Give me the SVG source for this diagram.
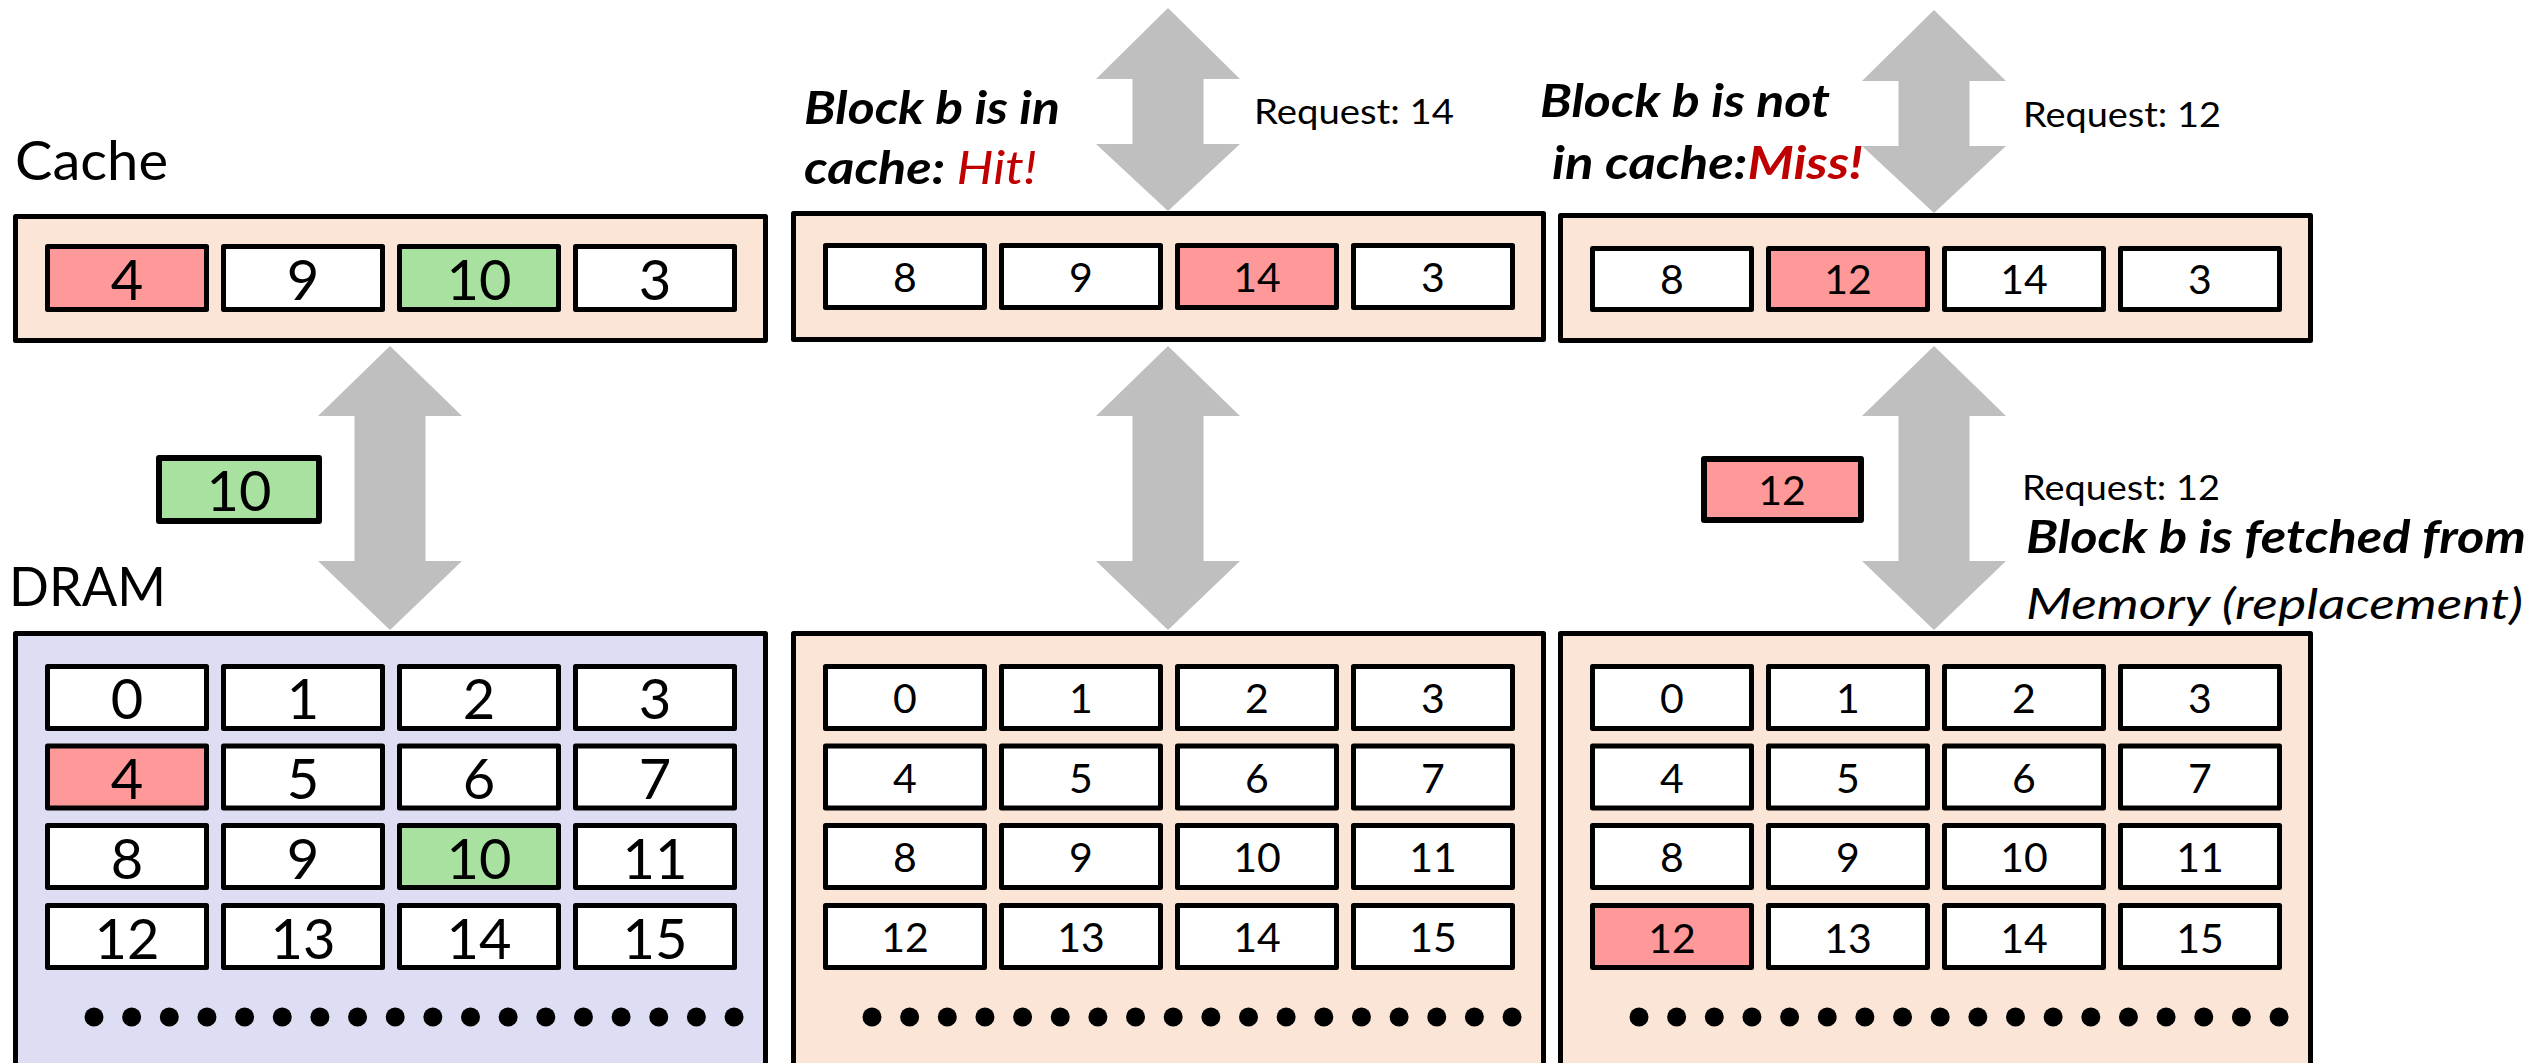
<svg xmlns="http://www.w3.org/2000/svg" xmlns:xlink="http://www.w3.org/1999/xlink" width="2529" height="1063" viewBox="0 0 2529 1063">
<style>
text{font-family:Lato,"Noto Sans","Liberation Sans",sans-serif;fill:#000}
.box{stroke:#000;stroke-width:5;stroke-linejoin:round}
.cache{fill:#FBE5D6}
.dram{fill:#DDDDF3}
.cell{fill:#fff;stroke:#000;stroke-width:5;stroke-linejoin:round}
.red{fill:#FF9999}
.green{fill:#A9E2A0}
.n1{font-size:56px;text-anchor:middle}
.n2{font-size:41px;text-anchor:middle}
.lbl{font-size:55px}
.bi{font-size:46px;font-weight:bold;font-style:italic}
.bi2{font-size:45px;font-weight:bold;font-style:italic}
.it{font-size:43px;font-style:italic}
.req{font-size:35px}
.hl{fill:#C00000}
.arrow{fill:#BFBFBF}
</style>
<defs>
<g id="dots">
<circle cx="81" cy="1017" r="9.5"/><circle cx="118.65" cy="1017" r="9.5"/><circle cx="156.3" cy="1017" r="9.5"/><circle cx="193.95" cy="1017" r="9.5"/><circle cx="231.6" cy="1017" r="9.5"/><circle cx="269.25" cy="1017" r="9.5"/><circle cx="306.9" cy="1017" r="9.5"/><circle cx="344.55" cy="1017" r="9.5"/><circle cx="382.2" cy="1017" r="9.5"/><circle cx="419.85" cy="1017" r="9.5"/><circle cx="457.5" cy="1017" r="9.5"/><circle cx="495.15" cy="1017" r="9.5"/><circle cx="532.8" cy="1017" r="9.5"/><circle cx="570.45" cy="1017" r="9.5"/><circle cx="608.1" cy="1017" r="9.5"/><circle cx="645.75" cy="1017" r="9.5"/><circle cx="683.4" cy="1017" r="9.5"/><circle cx="721.05" cy="1017" r="9.5"/>
</g>
</defs>
<rect width="2529" height="1063" fill="#fff"/>

<g id="connectors">
<polygon class="arrow" points="390,346 462,416 425.5,416 425.5,561 462,561 390,630 318,561 354.5,561 354.5,416 318,416"/>
<polygon class="arrow" points="1168,8 1240,79 1203.5,79 1203.5,144 1240,144 1168,211 1096,144 1132.5,144 1132.5,79 1096,79"/>
<polygon class="arrow" points="1168,346 1240,416 1203.5,416 1203.5,561 1240,561 1168,630 1096,561 1132.5,561 1132.5,416 1096,416"/>
<polygon class="arrow" points="1934,10 2006,81 1969.5,81 1969.5,146 2006,146 1934,213 1862,146 1898.5,146 1898.5,81 1862,81"/>
<polygon class="arrow" points="1934,346 2006,416 1969.5,416 1969.5,561 2006,561 1934,630 1862,561 1898.5,561 1898.5,416 1862,416"/>
</g>

<!-- Panel 1 -->
<g id="label-cache"><text class="lbl" x="15" y="180" textLength="153" lengthAdjust="spacingAndGlyphs">Cache</text></g>
<g id="label-dram"><text class="lbl" x="9" y="606" textLength="157" lengthAdjust="spacingAndGlyphs">DRAM</text></g>

<g id="cache1">
<rect class="box cache" x="15.5" y="216.5" width="750" height="124"/>
<rect class="cell red" x="47.5" y="246.5" width="159" height="63"/><text class="n1" x="127" y="300">4</text>
<rect class="cell" x="223.5" y="246.5" width="159" height="63"/><text class="n1" x="303" y="300">9</text>
<rect class="cell green" x="399.5" y="246.5" width="159" height="63"/><text class="n1" x="479" y="300">10</text>
<rect class="cell" x="575.5" y="246.5" width="159" height="63"/><text class="n1" x="655" y="300">3</text>
</g>

<g id="moving10">
<rect class="cell green" x="159" y="458" width="160" height="63" style="stroke-width:6"/><text class="n1" x="239" y="511">10</text>
</g>

<g id="dram1">
<rect class="box dram" x="15.5" y="633.5" width="750" height="500"/>
<rect class="cell" x="47.5" y="666.5" width="159" height="62"/><text class="n1" x="127" y="719">0</text>
<rect class="cell" x="223.5" y="666.5" width="159" height="62"/><text class="n1" x="303" y="719">1</text>
<rect class="cell" x="399.5" y="666.5" width="159" height="62"/><text class="n1" x="479" y="719">2</text>
<rect class="cell" x="575.5" y="666.5" width="159" height="62"/><text class="n1" x="655" y="719">3</text>
<rect class="cell red" x="47.5" y="746" width="159" height="62"/><text class="n1" x="127" y="799">4</text>
<rect class="cell" x="223.5" y="746" width="159" height="62"/><text class="n1" x="303" y="799">5</text>
<rect class="cell" x="399.5" y="746" width="159" height="62"/><text class="n1" x="479" y="799">6</text>
<rect class="cell" x="575.5" y="746" width="159" height="62"/><text class="n1" x="655" y="799">7</text>
<rect class="cell" x="47.5" y="825.5" width="159" height="62"/><text class="n1" x="127" y="879">8</text>
<rect class="cell" x="223.5" y="825.5" width="159" height="62"/><text class="n1" x="303" y="879">9</text>
<rect class="cell green" x="399.5" y="825.5" width="159" height="62"/><text class="n1" x="479" y="879">10</text>
<rect class="cell" x="575.5" y="825.5" width="159" height="62"/><text class="n1" x="655" y="879">11</text>
<rect class="cell" x="47.5" y="905.5" width="159" height="62"/><text class="n1" x="127" y="959">12</text>
<rect class="cell" x="223.5" y="905.5" width="159" height="62"/><text class="n1" x="303" y="959">13</text>
<rect class="cell" x="399.5" y="905.5" width="159" height="62"/><text class="n1" x="479" y="959">14</text>
<rect class="cell" x="575.5" y="905.5" width="159" height="62"/><text class="n1" x="655" y="959">15</text>
<use xlink:href="#dots" href="#dots" x="13"/>
</g>

<!-- Panel 2 -->
<g id="hit-text">
<text class="bi" x="804" y="124" textLength="256" lengthAdjust="spacingAndGlyphs">Block b is in</text>
<text class="bi" x="804" y="184" textLength="233" lengthAdjust="spacingAndGlyphs">cache: <tspan class="hl" style="font-weight:normal">Hit!</tspan></text>
<text class="req" x="1254" y="124" textLength="200" lengthAdjust="spacingAndGlyphs">Request: 14</text>
</g>

<g id="cache2">
<rect class="box cache" x="793.5" y="213.5" width="750" height="126"/>
<rect class="cell" x="825.5" y="245.5" width="159" height="62"/><text class="n2" x="905" y="292">8</text>
<rect class="cell" x="1001.5" y="245.5" width="159" height="62"/><text class="n2" x="1081" y="292">9</text>
<rect class="cell red" x="1177.5" y="245.5" width="159" height="62"/><text class="n2" x="1257" y="292">14</text>
<rect class="cell" x="1353.5" y="245.5" width="159" height="62"/><text class="n2" x="1433" y="292">3</text>
</g>

<g id="mem2">
<rect class="box cache" x="793.5" y="633.5" width="750" height="500"/>
<rect class="cell" x="825.5" y="666.5" width="159" height="62"/><text class="n2" x="905" y="713">0</text>
<rect class="cell" x="1001.5" y="666.5" width="159" height="62"/><text class="n2" x="1081" y="713">1</text>
<rect class="cell" x="1177.5" y="666.5" width="159" height="62"/><text class="n2" x="1257" y="713">2</text>
<rect class="cell" x="1353.5" y="666.5" width="159" height="62"/><text class="n2" x="1433" y="713">3</text>
<rect class="cell" x="825.5" y="746" width="159" height="62"/><text class="n2" x="905" y="793">4</text>
<rect class="cell" x="1001.5" y="746" width="159" height="62"/><text class="n2" x="1081" y="793">5</text>
<rect class="cell" x="1177.5" y="746" width="159" height="62"/><text class="n2" x="1257" y="793">6</text>
<rect class="cell" x="1353.5" y="746" width="159" height="62"/><text class="n2" x="1433" y="793">7</text>
<rect class="cell" x="825.5" y="825.5" width="159" height="62"/><text class="n2" x="905" y="872">8</text>
<rect class="cell" x="1001.5" y="825.5" width="159" height="62"/><text class="n2" x="1081" y="872">9</text>
<rect class="cell" x="1177.5" y="825.5" width="159" height="62"/><text class="n2" x="1257" y="872">10</text>
<rect class="cell" x="1353.5" y="825.5" width="159" height="62"/><text class="n2" x="1433" y="872">11</text>
<rect class="cell" x="825.5" y="905.5" width="159" height="62"/><text class="n2" x="905" y="952">12</text>
<rect class="cell" x="1001.5" y="905.5" width="159" height="62"/><text class="n2" x="1081" y="952">13</text>
<rect class="cell" x="1177.5" y="905.5" width="159" height="62"/><text class="n2" x="1257" y="952">14</text>
<rect class="cell" x="1353.5" y="905.5" width="159" height="62"/><text class="n2" x="1433" y="952">15</text>
<use xlink:href="#dots" href="#dots" x="791"/>
</g>

<!-- Panel 3 -->
<g id="miss-text">
<text class="bi" x="1540" y="117" textLength="290" lengthAdjust="spacingAndGlyphs">Block b is not</text>
<text class="bi" x="1552" y="179" textLength="311" lengthAdjust="spacingAndGlyphs">in cache:<tspan class="hl">Miss!</tspan></text>
<text class="req" x="2023" y="127" textLength="198" lengthAdjust="spacingAndGlyphs">Request: 12</text>
</g>

<g id="cache3">
<rect class="box cache" x="1560.5" y="215.5" width="750" height="125"/>
<rect class="cell" x="1592.5" y="248.5" width="159" height="61"/><text class="n2" x="1672" y="294">8</text>
<rect class="cell red" x="1768.5" y="248.5" width="159" height="61"/><text class="n2" x="1848" y="294">12</text>
<rect class="cell" x="1944.5" y="248.5" width="159" height="61"/><text class="n2" x="2024" y="294">14</text>
<rect class="cell" x="2120.5" y="248.5" width="159" height="61"/><text class="n2" x="2200" y="294">3</text>
</g>

<g id="moving12">
<rect class="cell red" x="1704" y="459" width="157" height="61" style="stroke-width:6"/><text class="n2" x="1782" y="505">12</text>
</g>

<g id="fetch-text">
<text class="req" x="2022" y="500" textLength="198" lengthAdjust="spacingAndGlyphs">Request: 12</text>
<text class="bi2" x="2026" y="553" textLength="500" lengthAdjust="spacingAndGlyphs">Block b is fetched from</text>
<text class="it" x="2026" y="619" textLength="497" lengthAdjust="spacingAndGlyphs">Memory (replacement)</text>
</g>

<g id="mem3">
<rect class="box cache" x="1560.5" y="633.5" width="750" height="500"/>
<rect class="cell" x="1592.5" y="666.5" width="159" height="62"/><text class="n2" x="1672" y="713">0</text>
<rect class="cell" x="1768.5" y="666.5" width="159" height="62"/><text class="n2" x="1848" y="713">1</text>
<rect class="cell" x="1944.5" y="666.5" width="159" height="62"/><text class="n2" x="2024" y="713">2</text>
<rect class="cell" x="2120.5" y="666.5" width="159" height="62"/><text class="n2" x="2200" y="713">3</text>
<rect class="cell" x="1592.5" y="746" width="159" height="62"/><text class="n2" x="1672" y="793">4</text>
<rect class="cell" x="1768.5" y="746" width="159" height="62"/><text class="n2" x="1848" y="793">5</text>
<rect class="cell" x="1944.5" y="746" width="159" height="62"/><text class="n2" x="2024" y="793">6</text>
<rect class="cell" x="2120.5" y="746" width="159" height="62"/><text class="n2" x="2200" y="793">7</text>
<rect class="cell" x="1592.5" y="825.5" width="159" height="62"/><text class="n2" x="1672" y="872">8</text>
<rect class="cell" x="1768.5" y="825.5" width="159" height="62"/><text class="n2" x="1848" y="872">9</text>
<rect class="cell" x="1944.5" y="825.5" width="159" height="62"/><text class="n2" x="2024" y="872">10</text>
<rect class="cell" x="2120.5" y="825.5" width="159" height="62"/><text class="n2" x="2200" y="872">11</text>
<rect class="cell red" x="1592.5" y="905.5" width="159" height="62"/><text class="n2" x="1672" y="953">12</text>
<rect class="cell" x="1768.5" y="905.5" width="159" height="62"/><text class="n2" x="1848" y="953">13</text>
<rect class="cell" x="1944.5" y="905.5" width="159" height="62"/><text class="n2" x="2024" y="953">14</text>
<rect class="cell" x="2120.5" y="905.5" width="159" height="62"/><text class="n2" x="2200" y="953">15</text>
<use xlink:href="#dots" href="#dots" x="1558"/>
</g>
</svg>
